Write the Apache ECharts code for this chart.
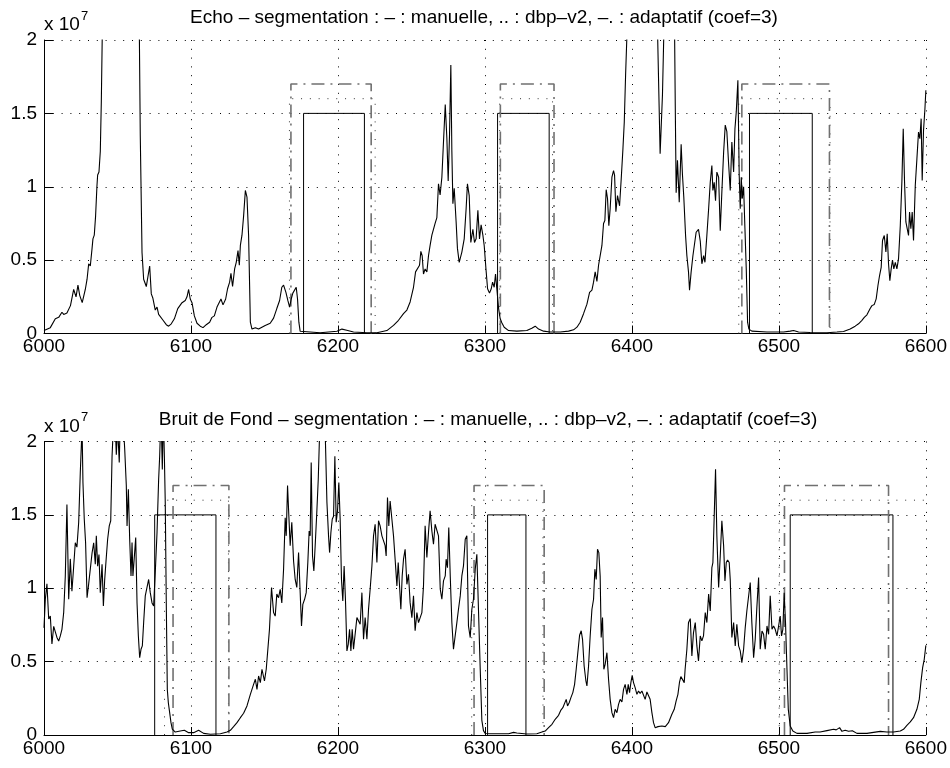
<!DOCTYPE html>
<html>
<head>
<meta charset="utf-8">
<style>html,body{margin:0;padding:0;background:#fff}#c{width:950px;height:768px}</style>
<script src="https://cdn.jsdelivr.net/npm/echarts/dist/echarts.min.js"></script>
</head>
<body>
<div id="c"></div>
<script>
// values in units of 1e7
const echoT = [6000,6004.3,6007.7,6010,6012.2,6013.4,6015.6,6018,6019,6020.2,6021.8,6023.1,6024.3,6026,6028.1,6029.3,6030.4,6031.5,6032.7,6033.3,6034.2,6035.1,6036,6036.5,6037.4,6038.3,6039,6041,6052,6064,6065.5,6066.7,6067.8,6069.6,6070.7,6071.9,6073,6074.1,6075.7,6076.9,6078,6079.1,6081,6083.2,6084.8,6086.6,6088.7,6091,6092.3,6093.9,6096.1,6097.3,6098.4,6099.5,6100.7,6102.3,6104.1,6106.3,6108.2,6110.4,6112.7,6114.3,6115.9,6117.7,6118.8,6120.4,6121.8,6123.6,6124.9,6126.3,6127.2,6128.3,6129.7,6130.8,6132,6132.9,6133.6,6134.7,6135.8,6137,6138.1,6139.2,6140.4,6141.5,6143.8,6146,6150.5,6153.9,6156.2,6158.4,6160.3,6161.8,6163,6164.6,6165.9,6167.1,6168.2,6169.3,6170.5,6171.6,6172.5,6173.4,6174.3,6175.4,6187.9,6199.3,6202.7,6206,6210.6,6219.7,6226.5,6233.3,6237.8,6241.2,6244.6,6246.9,6249.1,6251.4,6252.8,6254.1,6255.5,6256.4,6257.3,6258.2,6259.3,6260.5,6261.6,6262.7,6263.9,6265,6266.1,6267.3,6268.4,6269.5,6270.7,6271.8,6273,6274.1,6275,6275.9,6276.8,6277.5,6278.2,6279.1,6280.4,6281.3,6282.5,6284.3,6285.9,6287.2,6288.1,6289.3,6290.4,6291.8,6292.9,6294,6295.2,6296.3,6297.4,6298.6,6299.5,6300.7,6301.8,6303.1,6304.3,6305.2,6306.3,6307.2,6308.1,6309.3,6310.4,6311.5,6313.1,6316.1,6321.7,6328.5,6331.9,6334.2,6336.5,6339.9,6344.4,6351.2,6356.9,6360.3,6362.6,6364.8,6367.1,6369.4,6371.2,6372.8,6373.9,6375,6376.2,6377.3,6378.4,6379.6,6380.7,6381.6,6382.5,6383.4,6384.3,6385.2,6386.4,6387.5,6388.2,6389.1,6390.2,6391.6,6392.7,6393.9,6394.8,6395.7,6396.8,6398.5,6408,6416.5,6419.2,6420.8,6422.5,6426,6428.8,6429.5,6430.1,6431,6432.2,6433.5,6434.4,6435.3,6436.5,6437.4,6438.5,6439.2,6440.3,6441.5,6442.6,6443.7,6445.3,6446.5,6447.6,6448.8,6449.7,6451,6452.2,6453.3,6454.4,6455.1,6456,6456.9,6457.8,6459,6460.1,6461.2,6462.4,6463.5,6464.6,6465.8,6466.9,6468,6469.2,6470.1,6471,6472.1,6473,6473.7,6474.4,6475.1,6476,6476.9,6477.8,6478.7,6479.6,6481.6,6491.9,6503.2,6507.7,6510,6513.4,6521.3,6532.7,6539.5,6544,6548.5,6551.9,6554.2,6556.5,6558.1,6559.9,6561,6562.1,6563.3,6564.9,6566.2,6567.4,6568.5,6569.6,6570.5,6571.7,6572.8,6573.7,6574.6,6575.5,6576.4,6577.3,6578.2,6579.2,6580.3,6581.4,6582.6,6583.7,6584.6,6585.5,6586.4,6587.3,6588.2,6588.9,6589.8,6590.7,6591.6,6592.8,6593.9,6595,6595.9,6596.8,6597.5,6598.4,6599.3,6600];
const echoV = [0.02,0.04,0.10,0.11,0.145,0.13,0.14,0.19,0.195,0.30,0.25,0.33,0.26,0.21,0.30,0.37,0.475,0.46,0.58,0.645,0.67,0.80,1.00,1.08,1.10,1.24,1.58,3.0,6.0,3.0,1.35,0.55,0.37,0.32,0.32,0.46,0.27,0.24,0.16,0.18,0.13,0.14,0.09,0.06,0.05,0.066,0.10,0.17,0.165,0.21,0.225,0.25,0.30,0.235,0.21,0.12,0.07,0.05,0.04,0.06,0.077,0.11,0.12,0.18,0.17,0.235,0.195,0.235,0.305,0.35,0.41,0.32,0.44,0.485,0.565,0.465,0.60,0.67,0.80,0.975,0.93,0.67,0.077,0.03,0.04,0.03,0.055,0.07,0.105,0.17,0.225,0.315,0.33,0.28,0.225,0.18,0.235,0.275,0.27,0.315,0.235,0.077,0.015,0.003,0.005,0.015,0.03,0.022,0.01,0.005,0.005,0.02,0.055,0.09,0.135,0.16,0.215,0.315,0.42,0.43,0.465,0.56,0.53,0.405,0.44,0.42,0.53,0.60,0.67,0.68,0.75,0.79,1.02,0.945,1.065,1.305,1.56,1.33,1.04,1.35,1.83,1.24,0.885,0.99,0.76,0.58,0.485,0.555,0.645,0.85,1.02,0.94,0.62,0.71,0.62,0.645,0.84,0.645,0.74,0.67,0.60,0.44,0.305,0.275,0.305,0.35,0.315,0.405,0.305,0.17,0.10,0.073,0.043,0.02,0.016,0.02,0.036,0.05,0.03,0.016,0.01,0.01,0.016,0.025,0.043,0.077,0.135,0.20,0.28,0.295,0.35,0.42,0.355,0.465,0.475,0.60,0.75,0.77,0.98,0.92,0.735,0.85,1.065,1.11,1.08,0.83,0.94,0.87,1.05,1.26,1.44,1.76,1.77,2.6,4.0,2.5,1.225,1.63,2.4,3.2,2.3,1.55,0.96,1.18,0.895,1.29,1.08,0.93,0.67,0.53,0.42,0.295,0.42,0.53,0.52,0.69,0.71,0.63,0.475,0.53,0.485,0.67,0.85,1.03,1.145,0.975,1.03,0.905,1.10,1.065,0.70,0.965,1.235,1.42,1.375,1.155,0.975,1.305,1.10,1.395,1.51,1.725,1.08,0.85,1.065,0.92,1.00,0.715,0.44,0.077,0.03,0.016,0.01,0.01,0.016,0.02,0.01,0.007,0.005,0.01,0.014,0.03,0.05,0.066,0.09,0.11,0.127,0.134,0.17,0.19,0.198,0.236,0.327,0.395,0.45,0.634,0.668,0.555,0.68,0.475,0.36,0.44,0.50,0.44,0.485,0.44,0.51,0.736,1.04,1.395,1.03,0.76,0.714,0.668,0.827,0.714,0.827,0.634,1.01,1.19,1.373,1.327,1.464,1.043,1.384,1.52,1.657];

const bruitT = [6000,6000.9,6002,6003.2,6004.3,6005.4,6006.6,6007.7,6008.8,6010,6011.1,6012.2,6013.4,6014.5,6015.6,6016.8,6017.9,6019,6020.2,6021.3,6022.4,6023.6,6024.7,6025.9,6026.5,6027.4,6028.3,6029.3,6030.4,6031.5,6032.7,6033.8,6034.9,6035.6,6036.5,6037.4,6038.3,6039.5,6040.4,6041.3,6042.2,6043.3,6044.4,6045.4,6046.3,6047.4,6048.5,6049.2,6050.1,6051.2,6052,6053.5,6054.9,6056,6056.5,6057.4,6058.3,6059.2,6059.9,6060.5,6061.5,6062.4,6063.3,6064.2,6065.1,6066,6066.9,6067.8,6068.9,6070.1,6071.2,6072.3,6073.5,6074.6,6075.7,6076.9,6078,6078.7,6079.6,6080.5,6081.2,6081.9,6082.5,6083.2,6083.9,6084.6,6085.5,6086.4,6087.3,6089.3,6092.7,6095.5,6098.4,6101.8,6105.2,6108.6,6113.2,6120,6124.5,6126.8,6129,6131.3,6133.6,6135.8,6138.1,6140.4,6141.5,6142.6,6143.8,6144.9,6146,6147.2,6148.3,6150,6151.2,6152.1,6153.4,6154.8,6156.2,6157.3,6158.4,6159.6,6160.7,6161.8,6163,6164.1,6164.8,6165.7,6166.6,6167.5,6168.6,6169.8,6170.9,6172,6173.2,6174.3,6175.2,6176.1,6177.3,6178.4,6179.5,6180.4,6181.1,6181.8,6182.7,6183.6,6184.5,6185.6,6186.6,6188.5,6190.5,6192.5,6193.6,6194.3,6195.2,6196.1,6197,6197.9,6198.8,6199.7,6200.6,6201.5,6202.4,6203.3,6204.2,6205.1,6206.1,6207,6207.9,6208.8,6209.7,6210.6,6211.7,6212.9,6214,6215.1,6216.3,6217.4,6218.5,6219.7,6220.8,6221.9,6223.1,6224.2,6225.3,6226.5,6227.6,6228.7,6229.9,6231,6232.1,6232.8,6233.7,6234.6,6235.5,6236.7,6237.8,6238.9,6240.1,6241,6241.9,6242.8,6243.7,6244.6,6245.7,6246.9,6248,6249.1,6250.3,6251.4,6252.5,6253.7,6254.8,6255.9,6257.1,6258.2,6259.3,6260.5,6261.6,6262.7,6263.9,6265,6266.1,6267.3,6268.4,6269.6,6270.7,6271.8,6273,6273.6,6274.5,6275.4,6276.4,6277.5,6278.6,6279.8,6280.9,6282,6283.2,6284.3,6285.4,6286.6,6287.7,6288.8,6290,6291.1,6292.2,6293.4,6294.5,6295.6,6296.8,6297.9,6299,6300.2,6303.6,6310.4,6316.1,6319.5,6321.7,6328.5,6335.3,6338.8,6341,6343.3,6345.6,6347.8,6350.1,6351.7,6353,6354.2,6355.3,6356.2,6357.3,6358.5,6359.8,6361,6362.1,6363.2,6364.4,6365.5,6366.4,6367.5,6368.7,6369.4,6370.5,6371.6,6372.8,6373.9,6374.8,6375.7,6376.6,6377.5,6378.4,6379.1,6380,6380.9,6381.8,6383,6384.1,6385.2,6386.4,6387.5,6388.6,6389.8,6390.9,6392,6393.2,6394.3,6395.4,6396.6,6397.5,6398.4,6399.3,6400.2,6401.1,6402.2,6403.4,6404.5,6405.6,6406.8,6407.9,6409,6410.2,6411.3,6412.4,6413.6,6414.7,6415.8,6417.7,6420.4,6422.7,6424.9,6427.2,6428.8,6430.1,6431.3,6432.4,6433.3,6434.4,6435.6,6436.2,6437.4,6438.5,6439.7,6440.8,6441.9,6443.1,6444.2,6445.3,6446.5,6447.6,6448.7,6449.9,6451,6452.2,6453.3,6454.4,6455.1,6456,6456.9,6457.8,6459,6460.1,6461.2,6462.4,6463.3,6464.2,6465.1,6466.2,6466.9,6468,6469.2,6470.3,6471.4,6472.6,6473.7,6474.8,6476,6477.1,6478.2,6479.4,6480.5,6481.6,6482.8,6483.9,6485,6486.2,6487.3,6488.5,6489.6,6490.7,6491.9,6493,6494.1,6495.3,6496.4,6497.5,6498.7,6499.8,6500.9,6501.8,6502.7,6503.6,6504.5,6505.5,6506.4,6507.7,6509.5,6512.3,6519.1,6524.7,6528,6532.7,6537.2,6539,6541.3,6542.9,6545.1,6547.4,6550,6553.1,6559.9,6564.4,6569,6573.5,6578,6582.6,6584.8,6587.1,6589.4,6591.6,6593.9,6595.5,6596.6,6597.8,6598.9,6600];
const bruitV = [0.73,0.925,1.03,0.79,0.81,0.62,0.74,0.73,0.665,0.64,0.675,0.72,0.835,1.085,1.57,0.925,1.20,0.98,1.15,1.31,1.28,1.45,1.79,2.1,1.72,1.47,1.31,0.936,1.03,1.04,1.24,1.31,1.164,1.357,1.15,1.23,0.97,1.164,0.88,1.06,1.186,1.334,1.425,1.46,1.90,2.15,2.1,1.91,2.1,1.857,2.2,2.2,1.95,1.70,1.425,1.675,1.334,1.084,1.311,1.084,1.22,1.345,0.90,0.675,0.527,0.584,0.607,0.766,0.948,0.936,1.06,0.97,0.90,0.88,1.107,1.38,1.743,1.90,2.2,1.81,2.2,1.90,1.584,0.90,0.31,0.22,0.152,0.084,0.04,0.02,0.027,0.032,0.016,0.016,0.032,0.011,0.005,0.009,0.02,0.032,0.057,0.084,0.118,0.148,0.198,0.277,0.289,0.345,0.38,0.311,0.402,0.357,0.448,0.368,0.448,0.448,0.72,1.005,0.834,0.81,0.96,0.936,0.993,0.90,1.13,1.48,1.357,1.70,1.49,1.29,1.45,1.186,1.06,1.005,1.243,0.97,0.743,0.89,0.925,0.97,1.175,1.39,1.357,1.857,1.22,1.118,1.29,1.516,1.743,2.4,2.4,1.584,1.357,1.243,1.38,1.47,1.49,1.90,1.45,1.527,1.72,1.47,1.06,0.914,1.152,0.925,0.573,0.618,0.72,0.573,0.72,0.584,0.595,0.80,0.81,0.755,0.97,0.652,0.80,0.652,0.857,0.993,1.152,1.357,1.436,1.175,1.46,1.425,1.357,1.345,1.29,1.22,1.618,1.425,1.595,1.47,1.357,1.198,1.016,1.175,1.164,0.857,1.084,1.198,1.266,1.027,1.095,0.902,0.80,0.948,0.71,0.834,0.766,0.766,0.834,1.016,1.425,1.21,1.38,1.527,1.39,1.30,1.436,1.425,1.357,0.993,0.925,1.05,1.084,1.198,1.14,1.414,1.084,0.766,0.584,0.584,0.766,0.857,0.948,1.084,1.152,1.334,1.357,0.743,0.664,0.857,0.925,1.13,1.232,1.22,0.448,0.10,0.03,0.01,0.009,0.009,0.009,0.018,0.014,0.007,0.009,0.02,0.027,0.05,0.073,0.107,0.134,0.17,0.186,0.175,0.243,0.198,0.22,0.255,0.289,0.345,0.448,0.561,0.68,0.71,0.652,0.47,0.368,0.334,0.47,0.675,0.857,0.925,1.13,1.06,1.266,1.243,1.084,0.664,0.80,0.448,0.482,0.561,0.38,0.243,0.152,0.118,0.175,0.152,0.209,0.243,0.225,0.311,0.345,0.277,0.345,0.289,0.357,0.407,0.357,0.323,0.277,0.30,0.284,0.30,0.293,0.243,0.293,0.30,0.243,0.152,0.084,0.05,0.057,0.061,0.057,0.084,0.141,0.175,0.232,0.277,0.361,0.398,0.402,0.357,0.448,0.584,0.766,0.793,0.539,0.698,0.766,0.607,0.505,0.675,0.641,0.675,0.834,0.766,0.96,0.845,1.14,1.175,1.493,1.81,1.357,1.005,1.22,1.46,1.29,1.05,1.175,1.193,1.175,1.06,0.664,0.766,0.607,0.755,0.607,0.573,0.493,0.584,0.732,0.845,0.845,1.039,0.766,0.527,0.652,0.868,1.073,0.584,0.709,0.686,0.584,0.743,0.686,0.948,0.72,0.743,0.72,0.675,0.743,0.811,0.675,0.72,0.97,0.766,0.448,0.175,0.061,0.027,0.011,0.011,0.02,0.02,0.03,0.039,0.035,0.05,0.025,0.032,0.025,0.029,0.011,0.011,0.018,0.025,0.02,0.02,0.027,0.039,0.066,0.089,0.118,0.175,0.243,0.357,0.459,0.516,0.611];

// segmentations: [start, end] sample intervals
const echoManual = [[6176.6, 6218], [6308.6, 6343.7], [6480, 6522.7]];
const echoDbp    = [[6167, 6225.3], [6310, 6346], [6472.7, 6534.8]];
const echoAdapt  = [[6168, 6222.6], [6310.5, 6347], [6474.8, 6534.4]];
const bruitManual = [[6075.3, 6117], [6301.8, 6327.9], [6507.7, 6577.6]];
const bruitDbp    = [[6082, 6125.5], [6291, 6339.5], [6500.2, 6620]];
const bruitAdapt  = [[6087.8, 6125.8], [6292.6, 6340.3], [6503.8, 6574.6]];
const levelManual = 1.5, levelDbp = 1.6, levelAdapt = 1.7;

const xTicks = [6000, 6600, 100];
const yTicks = [0, 2, 0.5];
const titles = [
  'Echo \u2013 segmentation : \u2013 : manuelle, .. : dbp\u2013v2, \u2013. : adaptatif (coef=3)',
  'Bruit de Fond \u2013 segmentation : \u2013 : manuelle, .. : dbp\u2013v2, \u2013. : adaptatif (coef=3)'
];

const FONT = '"Liberation Sans", Arial, Helvetica, sans-serif';
const chart = echarts.init(document.getElementById('c'), null, {renderer: 'canvas'});

function pairs(t, v) { return t.map((x, i) => [x, v[i]]); }
function rect(seg, level) { return [[seg[0], 0], [seg[0], level], [seg[1], level], [seg[1], 0]]; }

const gridTops = [40, 441.5];
const grids = gridTops.map(t => ({left: 44, width: 882, top: t, height: 293.5, containLabel: false}));
const gridDash = [1, 7.8];

const xAxes = [0, 1].map(i => ({
  type: 'value', gridIndex: i, min: xTicks[0], max: xTicks[1], interval: xTicks[2],
  axisLine: {show: true, onZero: false, lineStyle: {color: '#000', width: 1}},
  axisTick: {show: true, inside: true, length: 8, lineStyle: {color: '#000'}},
  axisLabel: {color: '#000', fontSize: 19, fontFamily: FONT, margin: 4, formatter: v => String(v)},
  splitLine: {show: true, lineStyle: {color: '#000', width: 1, type: gridDash}}
}));
const yAxes = [0, 1].map(i => ({
  type: 'value', gridIndex: i, min: yTicks[0], max: yTicks[1], interval: yTicks[2],
  axisLine: {show: true, onZero: false, lineStyle: {color: '#000', width: 1}},
  axisTick: {show: true, inside: true, length: 9, lineStyle: {color: '#000'}},
  axisLabel: {color: '#000', fontSize: 19, fontFamily: FONT, margin: 7, formatter: v => String(v)},
  splitLine: {show: true, lineStyle: {color: '#000', width: 1, type: gridDash}}
}));

const series = [];
function addSignal(i, t, v) {
  series.push({type: 'line', xAxisIndex: i, yAxisIndex: i, data: pairs(t, v), symbol: 'none',
    clip: true, silent: true, z: 5, lineStyle: {color: '#000', width: 1.1}});
}
function addRects(i, segs, level, style) {
  segs.forEach(s => series.push({type: 'line', xAxisIndex: i, yAxisIndex: i, data: rect(s, level),
    symbol: 'none', clip: true, silent: true, z: 3, lineStyle: style}));
}
const styleManual = {color: '#000', width: 1, type: 'solid'};
const styleDbp = {color: '#333', width: 1, type: [1, 7.8]};
const styleAdapt = {color: '#707070', width: 1.6, type: [13, 6, 2, 6]};

addSignal(0, echoT, echoV);
addRects(0, echoManual, levelManual, styleManual);
addRects(0, echoDbp, levelDbp, styleDbp);
addRects(0, echoAdapt, levelAdapt, styleAdapt);
addSignal(1, bruitT, bruitV);
addRects(1, bruitManual, levelManual, styleManual);
addRects(1, bruitDbp, levelDbp, styleDbp);
addRects(1, bruitAdapt, levelAdapt, styleAdapt);

const graphic = [];
[0, 1].forEach(i => {
  const off = gridTops[i] - gridTops[0];
  graphic.push({type: 'text', x: i === 0 ? 484 : 488, y: 18 + off,
    style: {text: titles[i], fill: '#000', font: '19px ' + FONT, textAlign: 'center', textVerticalAlign: 'middle'}});
  graphic.push({type: 'text', x: 44, y: 25 + off,
    style: {text: 'x 10', fill: '#000', font: '19px ' + FONT, textAlign: 'left', textVerticalAlign: 'middle'}});
  graphic.push({type: 'text', x: 81, y: 16 + off,
    style: {text: '7', fill: '#000', font: '13px ' + FONT, textAlign: 'left', textVerticalAlign: 'middle'}});
});

chart.setOption({
  animation: false,
  backgroundColor: '#fff',
  grid: grids,
  xAxis: xAxes,
  yAxis: yAxes,
  series: series,
  graphic: graphic
});
</script>
</body>
</html>
